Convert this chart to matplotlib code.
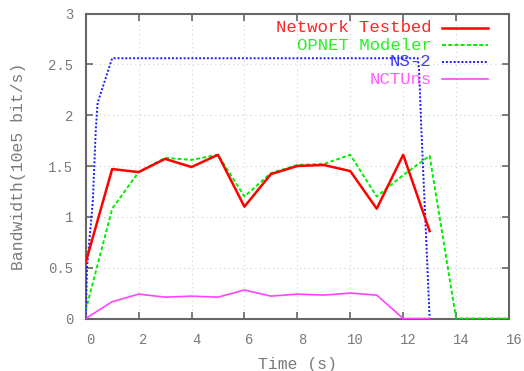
import matplotlib
matplotlib.use("Agg")
import matplotlib.pyplot as plt
import matplotlib.transforms as mtransforms
from matplotlib.lines import Line2D

t_int = list(range(0, 14))
testbed = [0.55, 1.47, 1.44, 1.57, 1.49, 1.61, 1.10, 1.42, 1.50, 1.51, 1.45, 1.08, 1.61, 0.86]

t_opnet = list(range(0, 17))
opnet = [0.08, 1.08, 1.44, 1.58, 1.56, 1.61, 1.20, 1.43, 1.51, 1.52, 1.61, 1.20, 1.41, 1.60, 0.0, 0.0, 0.0]

t_ns2 = [0, 0.05, 0.27, 0.38, 0.45, 1.0, 12.55, 12.6, 12.7, 12.85, 13.0]
ns2 = [0, 0.5, 1.16, 1.85, 2.12, 2.56, 2.56, 2.45, 1.78, 0.9, 0.0]

nctuns = [0.0, 0.165, 0.24, 0.21, 0.22, 0.21, 0.28, 0.22, 0.24, 0.23, 0.25, 0.23, 0.0, 0.0]

series_names = ["Network Testbed", "OPNET Modeler", "NS-2", "NCTUns"]
xticks = list(range(0, 17, 2))
yticks = [0, 0.5, 1, 1.5, 2, 2.5, 3]
ytick_labels = ["0", "0.5", "1", "1.5", "2", "2.5", "3"]

mono = "Liberation Mono"
txt_gray = "#7a7a7a"
spine_gray = "#666666"

styles = [
    dict(color="#ff0000", lw=1.8, dashes=None, zorder=4),
    dict(color="#00ee00", lw=1.4, dashes=(2, 1.2), zorder=3),
    dict(color="#1a1aff", lw=1.4, dashes=(1, 1), zorder=3),
    dict(color="#ff44ff", lw=1.2, dashes=None, zorder=3),
]
data = [(t_int, testbed), (t_opnet, opnet), (t_ns2, ns2), (t_int, nctuns)]

W, H = 524, 371
fig = plt.figure(figsize=(W / 100, H / 100), dpi=100)
ax = fig.add_axes([85.7 / W, 1 - 318.5 / H, (509 - 85.7) / W, (318.5 - 13.5) / H])

for (xs, ys), st in zip(data, styles):
    ln, = ax.plot(xs, ys, color=st["color"], lw=st["lw"], zorder=st["zorder"])
    if st["dashes"]:
        ln.set_dashes(st["dashes"])

ax.set_xlim(0, 16)
ax.set_ylim(0, 3)
ax.set_xticks(xticks)
ax.set_yticks(yticks)
ax.set_yticklabels(ytick_labels)

ax.grid(True, color="#d0d0d0", linestyle=(0, (1, 3)), lw=0.8)
ax.tick_params(direction="in", top=True, right=True, length=5, width=1.2,
               color=spine_gray, labelcolor=txt_gray, labelsize=10)
ax.tick_params(axis="x", pad=10.5)
ax.tick_params(axis="y", pad=9)
for lab in ax.get_xticklabels() + ax.get_yticklabels():
    lab.set_fontfamily(mono)
offset = mtransforms.ScaledTranslation(5 / 100, 0, fig.dpi_scale_trans)
for lab in ax.get_xticklabels():
    lab.set_transform(lab.get_transform() + offset)
for s in ax.spines.values():
    s.set_color(spine_gray)
    s.set_linewidth(1.5)

ax.set_xlabel("Time (s)", fontfamily=mono, fontsize=11.8, color=txt_gray, labelpad=7.5)
ax.set_ylabel("Bandwidth(10e5 bit/s)", fontfamily=mono, fontsize=11.8, color=txt_gray, labelpad=16)

# legend (gnuplot style: right-aligned coloured text, sample line on the right)
row_y = [27.7, 45.0, 62.0, 79.0]
for name, st, py in zip(series_names, styles, row_y):
    fy = 1 - py / H
    fig.text(431.5 / W, fy, name, ha="right", va="center", fontfamily=mono,
             fontsize=12.5, color=st["color"], alpha=0.85)
    sample = Line2D([441.7 / W, 488.3 / W], [fy, fy], transform=fig.transFigure,
                    color=st["color"], lw=st["lw"])
    if st["dashes"]:
        sample.set_dashes(st["dashes"])
    fig.add_artist(sample)

fig.savefig("out.png", dpi=100)
